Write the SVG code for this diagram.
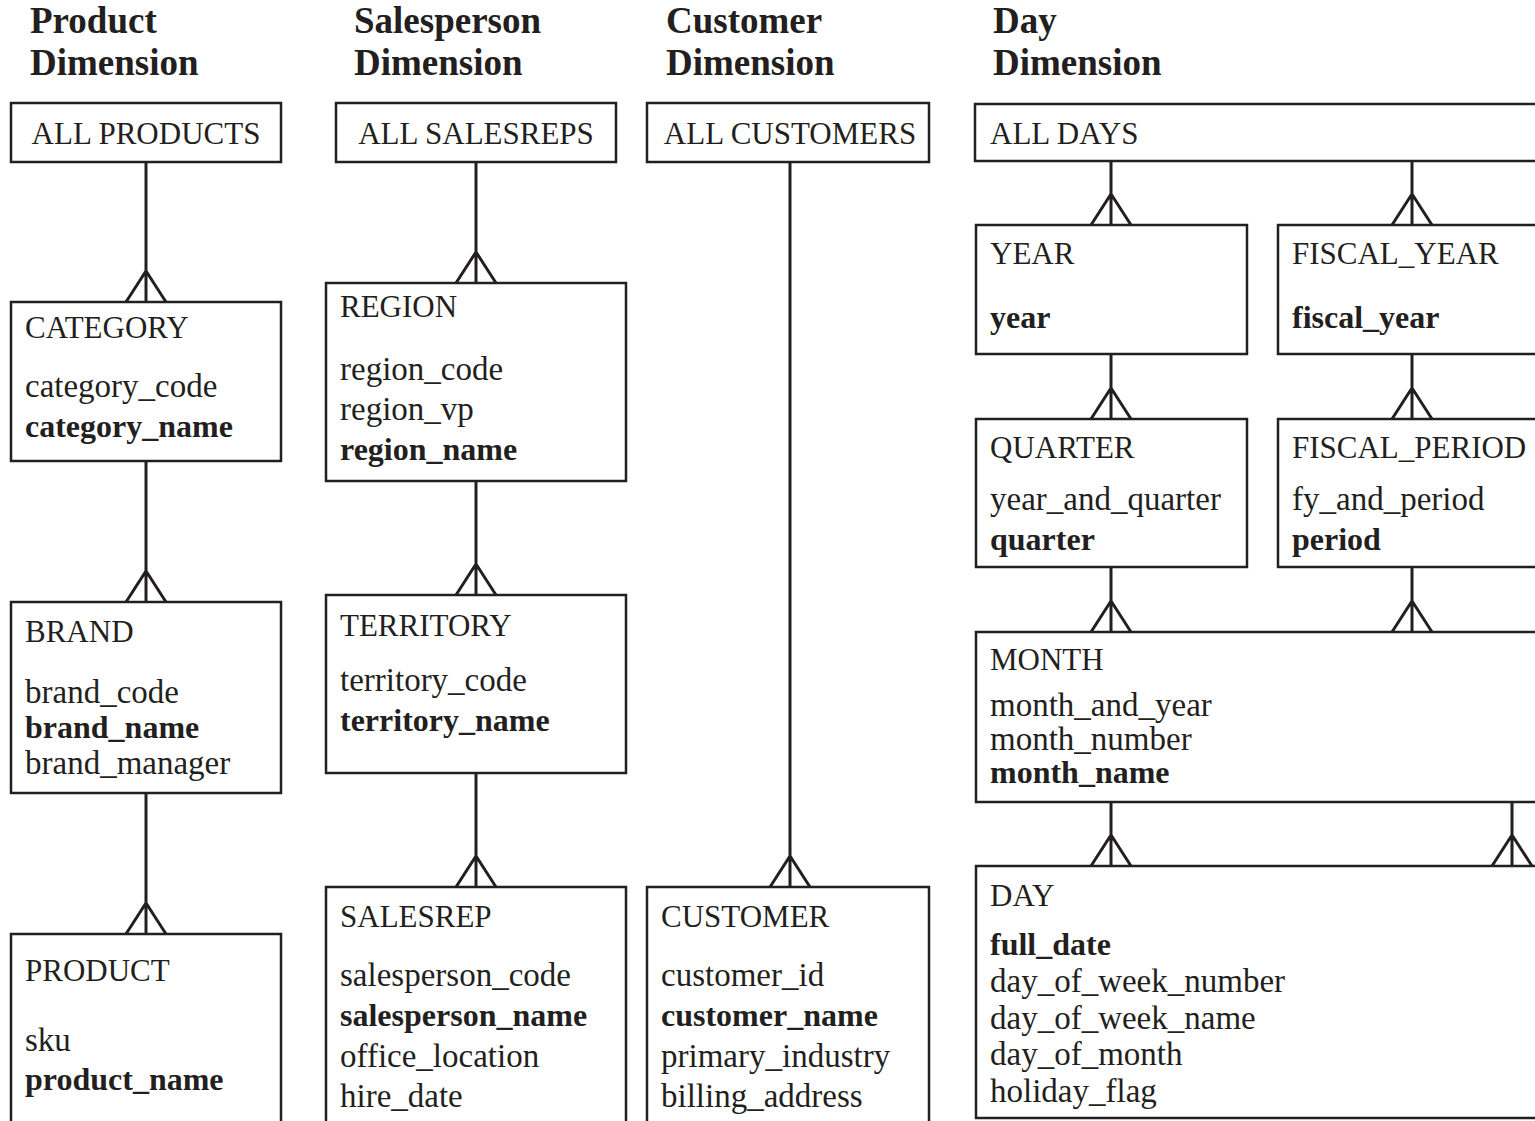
<svg xmlns="http://www.w3.org/2000/svg" width="1535" height="1121" viewBox="0 0 1535 1121">
<style>
  .box { fill: #ffffff; stroke: #231f20; stroke-width: 2.5; }
  .conn { fill: none; stroke: #231f20; stroke-width: 3; stroke-linejoin: miter; }
  text { font-family: "Liberation Serif", "Times New Roman", serif; fill: #231f20; }
  .head { font-size: 37px; font-weight: bold; }
  .ent { font-size: 31px; }
  .att { font-size: 33px; }
  .key { font-size: 32px; font-weight: bold; }
  .mid { text-anchor: middle; }
</style>
<rect x="0" y="0" width="1535" height="1121" fill="#ffffff"/>

<g id="headings">
  <text class="head" x="30" y="33">Product</text>
  <text class="head" x="30" y="75">Dimension</text>
  <text class="head" x="354" y="33">Salesperson</text>
  <text class="head" x="354" y="75">Dimension</text>
  <text class="head" x="666" y="33">Customer</text>
  <text class="head" x="666" y="75">Dimension</text>
  <text class="head" x="993" y="33">Day</text>
  <text class="head" x="993" y="75">Dimension</text>
</g>

<g id="connectors">
  <!-- Product -->
  <path class="conn" d="M146,162 V302 M126,302 L146,271 L166,302"/>
  <path class="conn" d="M146,461 V602 M126,602 L146,571 L166,602"/>
  <path class="conn" d="M146,793 V934 M126,934 L146,903 L166,934"/>
  <!-- Salesperson -->
  <path class="conn" d="M476,162 V283 M456,283 L476,252 L496,283"/>
  <path class="conn" d="M476,481 V595 M456,595 L476,564 L496,595"/>
  <path class="conn" d="M476,773 V887 M456,887 L476,856 L496,887"/>
  <!-- Customer -->
  <path class="conn" d="M790,162 V887 M770,887 L790,856 L810,887"/>
  <!-- Day -->
  <path class="conn" d="M1111,161 V225 M1091,225 L1111,194 L1131,225"/>
  <path class="conn" d="M1412,161 V225 M1392,225 L1412,194 L1432,225"/>
  <path class="conn" d="M1111,354 V419 M1091,419 L1111,388 L1131,419"/>
  <path class="conn" d="M1412,354 V419 M1392,419 L1412,388 L1432,419"/>
  <path class="conn" d="M1111,567 V632 M1091,632 L1111,601 L1131,632"/>
  <path class="conn" d="M1412,567 V632 M1392,632 L1412,601 L1432,632"/>
  <path class="conn" d="M1111,802 V866 M1091,866 L1111,835 L1131,866"/>
  <path class="conn" d="M1512,802 V866 M1492,866 L1512,835 L1532,866"/>
</g>

<g id="all_products">
  <rect class="box" x="11" y="103" width="270" height="59"/>
  <text class="ent mid" x="146" y="144">ALL PRODUCTS</text>
</g>
<g id="category">
  <rect class="box" x="11" y="302" width="270" height="159"/>
  <text class="ent" x="25" y="338">CATEGORY</text>
  <text class="att" x="25" y="397">category_code</text>
  <text class="key" x="25" y="437">category_name</text>
</g>
<g id="brand">
  <rect class="box" x="11" y="602" width="270" height="191"/>
  <text class="ent" x="25" y="642">BRAND</text>
  <text class="att" x="25" y="703">brand_code</text>
  <text class="key" x="25" y="738">brand_name</text>
  <text class="att" x="25" y="774">brand_manager</text>
</g>
<g id="product">
  <rect class="box" x="11" y="934" width="270" height="200"/>
  <text class="ent" x="25" y="981">PRODUCT</text>
  <text class="att" x="25" y="1051">sku</text>
  <text class="key" x="25" y="1090">product_name</text>
</g>

<g id="all_salesreps">
  <rect class="box" x="336" y="103" width="280" height="59"/>
  <text class="ent mid" x="476" y="144">ALL SALESREPS</text>
</g>
<g id="region">
  <rect class="box" x="326" y="283" width="300" height="198"/>
  <text class="ent" x="340" y="317">REGION</text>
  <text class="att" x="340" y="380">region_code</text>
  <text class="att" x="340" y="420">region_vp</text>
  <text class="key" x="340" y="460">region_name</text>
</g>
<g id="territory">
  <rect class="box" x="326" y="595" width="300" height="178"/>
  <text class="ent" x="340" y="636">TERRITORY</text>
  <text class="att" x="340" y="691">territory_code</text>
  <text class="key" x="340" y="731">territory_name</text>
</g>
<g id="salesrep">
  <rect class="box" x="326" y="887" width="300" height="250"/>
  <text class="ent" x="340" y="927">SALESREP</text>
  <text class="att" x="340" y="986">salesperson_code</text>
  <text class="key" x="340" y="1026">salesperson_name</text>
  <text class="att" x="340" y="1067">office_location</text>
  <text class="att" x="340" y="1107">hire_date</text>
</g>

<g id="all_customers">
  <rect class="box" x="647" y="103" width="282" height="59"/>
  <text class="ent mid" x="790" y="144">ALL CUSTOMERS</text>
</g>
<g id="customer">
  <rect class="box" x="647" y="887" width="282" height="250"/>
  <text class="ent" x="661" y="927">CUSTOMER</text>
  <text class="att" x="661" y="986">customer_id</text>
  <text class="key" x="661" y="1026">customer_name</text>
  <text class="att" x="661" y="1067">primary_industry</text>
  <text class="att" x="661" y="1107">billing_address</text>
</g>

<g id="all_days">
  <rect class="box" x="975" y="104" width="580" height="57"/>
  <text class="ent" x="990" y="144">ALL DAYS</text>
</g>
<g id="year">
  <rect class="box" x="976" y="225" width="271" height="129"/>
  <text class="ent" x="990" y="264">YEAR</text>
  <text class="key" x="990" y="328">year</text>
</g>
<g id="fiscal_year">
  <rect class="box" x="1278" y="225" width="280" height="129"/>
  <text class="ent" x="1292" y="264">FISCAL_YEAR</text>
  <text class="key" x="1292" y="328">fiscal_year</text>
</g>
<g id="quarter">
  <rect class="box" x="976" y="419" width="271" height="148"/>
  <text class="ent" x="990" y="458">QUARTER</text>
  <text class="att" x="990" y="510">year_and_quarter</text>
  <text class="key" x="990" y="550">quarter</text>
</g>
<g id="fiscal_period">
  <rect class="box" x="1278" y="419" width="280" height="148"/>
  <text class="ent" x="1292" y="458">FISCAL_PERIOD</text>
  <text class="att" x="1292" y="510">fy_and_period</text>
  <text class="key" x="1292" y="550">period</text>
</g>
<g id="month">
  <rect class="box" x="976" y="632" width="580" height="170"/>
  <text class="ent" x="990" y="670">MONTH</text>
  <text class="att" x="990" y="716">month_and_year</text>
  <text class="att" x="990" y="750">month_number</text>
  <text class="key" x="990" y="783">month_name</text>
</g>
<g id="day">
  <rect class="box" x="976" y="866" width="580" height="252"/>
  <text class="ent" x="990" y="906">DAY</text>
  <text class="key" x="990" y="955">full_date</text>
  <text class="att" x="990" y="992">day_of_week_number</text>
  <text class="att" x="990" y="1029">day_of_week_name</text>
  <text class="att" x="990" y="1065">day_of_month</text>
  <text class="att" x="990" y="1102">holiday_flag</text>
</g>
</svg>
